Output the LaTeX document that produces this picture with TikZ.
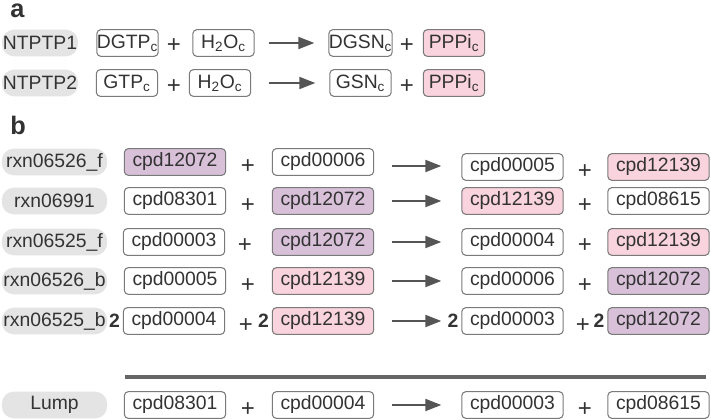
\documentclass[tikz,border=0pt]{standalone}
\usepackage{fontspec}
\setmainfont{Liberation Sans}
\usepackage{tikz}
\usetikzlibrary{positioning,calc,arrows.meta}

\definecolor{txt}{HTML}{333333}
\definecolor{edge}{HTML}{7A7A7A}
\definecolor{rxnfill}{HTML}{E4E4E4}
\definecolor{mauve}{HTML}{D8C1D8}
\definecolor{rose}{HTML}{F9D3DD}
\definecolor{arr}{HTML}{555555}

\tikzset{
  rxn/.style = {rounded corners = 9pt, fill = rxnfill, inner sep = 0pt,
                minimum width = 79pt, minimum height = 20pt, text = txt,
                font = \fontsize{14.5}{16}\selectfont},
  rxna/.style = {rxn, minimum width = 57pt},
  cpd/.style = {draw = edge, line width = .8pt, rounded corners = 3pt, fill = white,
                inner sep = 0pt, minimum width = 76pt, minimum height = 20pt, text = txt,
                font = \fontsize{14.5}{16}\selectfont},
  cpda/.style = {cpd, minimum width = 46pt},
  rest/.style = {fill = mauve},
  pink/.style = {fill = rose},
  plus/.style = {text = txt, inner sep = 0pt, font = \fontsize{18}{18}\selectfont},
  coef/.style = {text = txt, inner sep = 0pt, font = \fontsize{14.5}{16}\selectfont\bfseries},
  react/.style = {draw = arr, line width = 1.5pt, -{Triangle[length = 12pt, width = 9pt]}},
  panel/.style = {text = txt, inner sep = 0pt, anchor = base west,
                  font = \fontsize{19}{20}\selectfont\bfseries}
}

\begin{document}
\begin{tikzpicture}[x = .75pt, y = -.75pt]

\useasboundingbox (0,0) rectangle (711,420);

%%%%%%%%%%%%%%%%%%%%%%%%%%%%%%%% panel a

\node[panel] (la) at (10,18) {a};

\node[rxna] (a1r) at (40,43) {NTPTP1};
\node[cpda] (a1a) at (127.5,43) {DGTP\textsubscript{c}};
\node[plus] (a1p) at (174,46) {+};
\node[cpda] (a1b) at (223.5,43) {H\textsubscript{2}O\textsubscript{c}};
\node[cpda] (a1c) at (360.5,43) {DGSN\textsubscript{c}};
\node[plus] (a1q) at (407,46) {+};
\node[cpda, pink] (a1d) at (454,43) {PPPi\textsubscript{c}};
\draw[react, shorten <= 10.5pt, shorten >= 10.5pt] (a1b.east) -- (a1c.west);

\node[rxna] (a2r) at (40,83) {NTPTP2};
\node[cpda] (a2a) at (127,83) {GTP\textsubscript{c}};
\node[plus] (a2p) at (174,87) {+};
\node[cpda] (a2b) at (220,83) {H\textsubscript{2}O\textsubscript{c}};
\node[cpda] (a2c) at (360.5,83) {GSN\textsubscript{c}};
\node[plus] (a2q) at (407,87) {+};
\node[cpda, pink] (a2d) at (454,83) {PPPi\textsubscript{c}};
\draw[react, shorten <= 13pt, shorten >= 10.5pt] (a2b.east) -- (a2c.west);

%%%%%%%%%%%%%%%%%%%%%%%%%%%%%%%% panel b

\node[panel] (lb) at (10,135) {b};

\node[rxn] (b1r) at (54.5,162) {rxn06526\_f};
\node[cpd, rest] (b1a) at (175,162) {cpd12072};
\node[plus] (b1p) at (248,167) {+};
\node[cpd] (b1b) at (323,162) {cpd00006};
\node[cpd] (b1c) at (512.5,167) {cpd00005};
\node[plus] (b1q) at (585,172) {+};
\node[cpd, pink] (b1d) at (658.5,167) {cpd12139};
\draw[react, shorten <= 13pt, shorten >= 15pt] ($(b1b.east)+(0,4)$) -- ($(b1c.west)+(0,-1)$);

\node[rxn] (b2r) at (54.5,201) {rxn06991};
\node[cpd] (b2a) at (175,201) {cpd08301};
\node[plus] (b2p) at (248,206) {+};
\node[cpd, rest] (b2b) at (323,201) {cpd12072};
\node[cpd, pink] (b2c) at (512.5,201) {cpd12139};
\node[plus] (b2q) at (585,206) {+};
\node[cpd] (b2d) at (658.5,201) {cpd08615};
\draw[react, shorten <= 13pt, shorten >= 15pt] (b2b.east) -- (b2c.west);

\node[rxn] (b3r) at (54.5,242) {rxn06525\_f};
\node[cpd] (b3a) at (174,242) {cpd00003};
\node[plus] (b3p) at (245,246) {+};
\node[cpd, rest] (b3b) at (323,242) {cpd12072};
\node[cpd] (b3c) at (512.5,242) {cpd00004};
\node[plus] (b3q) at (585,246) {+};
\node[cpd, pink] (b3d) at (658.5,242) {cpd12139};
\draw[react, shorten <= 13pt, shorten >= 15pt] (b3b.east) -- (b3c.west);

\node[rxn] (b4r) at (54.5,281) {rxn06526\_b};
\node[cpd] (b4a) at (175,281) {cpd00005};
\node[plus] (b4p) at (248,286) {+};
\node[cpd, pink] (b4b) at (323,281) {cpd12139};
\node[cpd] (b4c) at (512.5,281) {cpd00006};
\node[plus] (b4q) at (585,286) {+};
\node[cpd, rest] (b4d) at (658.5,281) {cpd12072};
\draw[react, shorten <= 13pt, shorten >= 15pt] (b4b.east) -- (b4c.west);

\node[rxn] (b5r) at (54.5,321) {rxn06525\_b};
\node[cpd] (b5a) at (174,321) {cpd00004};
\node[plus] (b5p) at (246,326) {+};
\node[cpd, pink] (b5b) at (323,321) {cpd12139};
\node[cpd] (b5c) at (512.5,321) {cpd00003};
\node[plus] (b5q) at (583,326) {+};
\node[cpd, rest] (b5d) at (658.5,321) {cpd12072};
\node[coef, left = 2pt of b5a] (k5a) {2};
\node[coef, left = 2pt of b5b] (k5b) {2};
\node[coef, left = 2pt of b5c] (k5c) {2};
\node[coef, left = 2pt of b5d] (k5d) {2};
\draw[react, shorten <= 13pt, shorten >= 15pt] (b5b.east) -- (b5c.west);

%%%%%%%%%%%%%%%%%%%%%%%%%%%%%%%% lumped reaction

\coordinate (barl) at (125,377);
\coordinate (barr) at (706,377);
\draw[line width = 3pt, draw = arr!90!white] (barl) -- (barr);

\node[rxn] (lr) at (54.5,405) {Lump};
\node[cpd] (la1) at (175,405) {cpd08301};
\node[plus] (lp) at (248,410) {+};
\node[cpd] (lb1) at (323,405) {cpd00004};
\node[cpd] (lc1) at (512.5,405) {cpd00003};
\node[plus] (lq) at (585,410) {+};
\node[cpd] (ld1) at (658.5,405) {cpd08615};
\draw[react, shorten <= 13pt, shorten >= 15pt] (lb1.east) -- (lc1.west);

\end{tikzpicture}
\end{document}
